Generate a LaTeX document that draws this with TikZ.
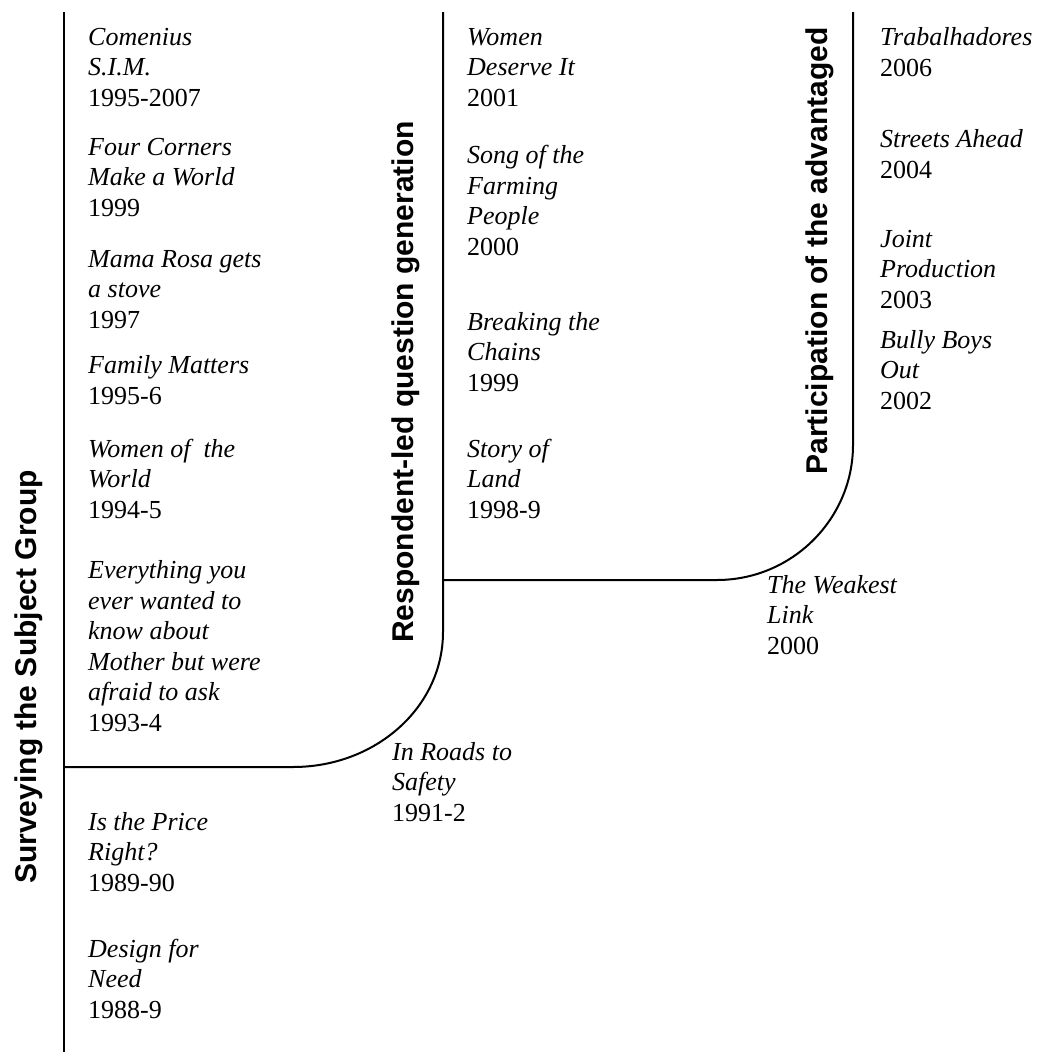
\documentclass[tikz,border=0pt]{standalone}
\usepackage{fontspec}
\setmainfont{Liberation Serif}
\setsansfont{Liberation Sans}
\begin{document}
\begin{tikzpicture}[
    x=1pt, y=-1pt,
    film/.style={anchor=base west, inner sep=0pt, align=left, font=\fontsize{26}{30.5}\selectfont},
    stage/.style={rotate=90, inner sep=0pt, font=\sffamily\bfseries\fontsize{30}{36}\selectfont},
    border/.style={line width=2pt}
]
\useasboundingbox (0,0) rectangle (1038,1052);

% Corners of the stages
\coordinate (s1top) at (64,12);
\coordinate (s1bot) at (64,1052);
\coordinate (s1turn) at (293,767);
\coordinate (s2end) at (443,632);
\coordinate (s2top) at (443,12);
\coordinate (s2turn) at (717,580);
\coordinate (s3end) at (853,445);
\coordinate (s3top) at (853,12);

% Stage borders
\draw[border] (s1top) -- (s1bot);
\draw[border] (64,767) -- (s1turn) .. controls (376,767) and (443,707) .. (s2end) -- (s2top);
\draw[border] (443,580) -- (s2turn) .. controls (792,580) and (853,519) .. (s3end) -- (s3top);

% Stage labels
\node[stage] (surveying) at (29,677) {Surveying the Subject Group};
\node[stage] (respondent) at (406,382) {Respondent-led question generation};
\node[stage] (participation) at (820,251) {Participation of the advantaged};

% Stage 1 projects (placed at the baseline of their last line)
\node[film] (comenius) at (88,106) {\textit{Comenius}\\\textit{S.I.M.}\\1995-2007};
\node[film] (fourcorners) at (88,216) {\textit{Four Corners}\\\textit{Make a World}\\1999};
\node[film] (mamarosa) at (88,328) {\textit{Mama Rosa gets}\\\textit{a stove}\\1997};
\node[film] (familymatters) at (88,404) {\textit{Family Matters}\\1995-6};
\node[film] (womenworld) at (88,518) {\textit{Women of\ \ the}\\\textit{World}\\1994-5};
\node[film] (everything) at (88,731) {\textit{Everything you}\\\textit{ever wanted to}\\\textit{know about}\\\textit{Mother but were}\\\textit{afraid to ask}\\1993-4};
\node[film] (pricer) at (88,891) {\textit{Is the Price}\\\textit{Right?}\\1989-90};
\node[film] (designneed) at (88,1018) {\textit{Design for}\\\textit{Need}\\1988-9};
\node[film] (inroads) at (392,821) {\textit{In Roads to}\\\textit{Safety}\\1991-2};

% Stage 2 projects
\node[film] (womendeserve) at (467,106) {\textit{Women}\\\textit{Deserve It}\\2001};
\node[film] (songfarming) at (467,255) {\textit{Song of the}\\\textit{Farming}\\\textit{People}\\2000};
\node[film] (breakingchains) at (467,391) {\textit{Breaking the}\\\textit{Chains}\\1999};
\node[film] (storyland) at (467,518) {\textit{Story of}\\\textit{Land}\\1998-9};
\node[film] (weakestlink) at (767,654) {\textit{The Weakest}\\\textit{Link}\\2000};

% Stage 3 projects
\node[film] (trabalhadores) at (880,76) {\textit{Trabalhadores}\\2006};
\node[film] (streetsahead) at (880,178) {\textit{Streets Ahead}\\2004};
\node[film] (jointprod) at (880,308) {\textit{Joint}\\\textit{Production}\\2003};
\node[film] (bullyboys) at (880,409) {\textit{Bully Boys}\\\textit{Out}\\2002};

\end{tikzpicture}
\end{document}
